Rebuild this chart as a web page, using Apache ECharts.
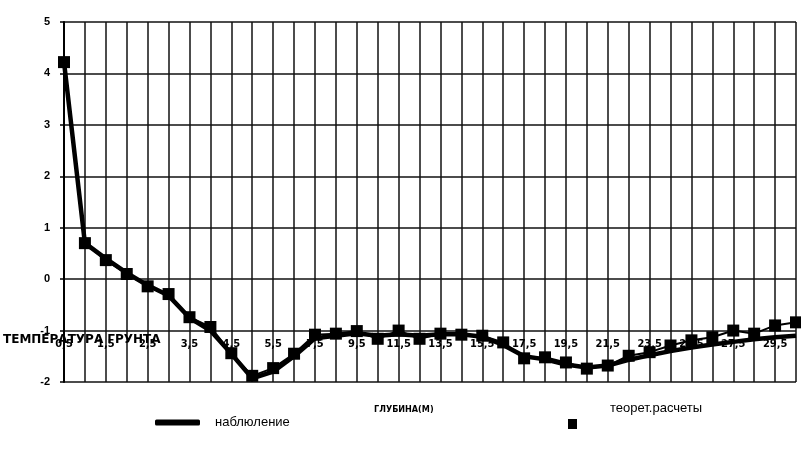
<!DOCTYPE html>
<html>
<head>
<meta charset="utf-8">
<script src="https://cdn.jsdelivr.net/npm/echarts@6/dist/echarts.min.js"></script>
<style>html,body{margin:0;padding:0;background:#fff;}#c{width:801px;height:457px;}</style>
</head>
<body>
<div id="c"></div>
<script>
var categories = ['0,5','1','1,5','2','2,5','3','3,5','4','4,5','5','5,5','6,5','7,5','8,5','9,5','10,5','11,5','12,5','13,5','14,5','15,5','16,5','17,5','18,5','19,5','20,5','21,5','22,5','23,5','24,5','25,5','26,5','27,5','28,5','29,5','30,5'];
var observed = [4.22, 0.70, 0.40, 0.12, -0.12, -0.32, -0.75, -1.00, -1.45, -1.93, -1.80, -1.50, -1.15, -1.10, -1.05, -1.10, -1.07, -1.10, -1.07, -1.07, -1.12, -1.28, -1.50, -1.56, -1.66, -1.72, -1.68, -1.57, -1.48, -1.40, -1.33, -1.27, -1.22, -1.17, -1.13, -1.10];
var theoretical = [4.22, 0.70, 0.37, 0.10, -0.14, -0.29, -0.74, -0.93, -1.44, -1.88, -1.73, -1.45, -1.08, -1.06, -1.01, -1.16, -1.00, -1.16, -1.06, -1.08, -1.10, -1.23, -1.54, -1.52, -1.62, -1.74, -1.68, -1.49, -1.42, -1.29, -1.19, -1.13, -1.00, -1.06, -0.90, -0.84];
var yTicks = {min: -2, max: 5, interval: 1};

var narrow = '"Liberation Sans Narrow", "DejaVu Sans Condensed", "Liberation Sans", sans-serif';
var sans = '"Liberation Sans", Arial, sans-serif';
var chart = echarts.init(document.getElementById('c'), null, {renderer: 'canvas'});
chart.setOption({
  animation: false,
  backgroundColor: '#fff',
  title: [
    {text: 'ТЕМПЕРАТУРА ГРУНТА', left: 3, top: 334, padding: 0,
     textStyle: {fontSize: 12, fontWeight: 'bold', color: '#000', fontFamily: '"DejaVu Sans", sans-serif'}},
    {text: 'ГЛУБИНА(М)', left: 374, top: 405, padding: 0,
     textStyle: {fontSize: 9, fontWeight: 'bold', color: '#000', fontFamily: narrow}}
  ],
  legend: [
    {data: ['наблюление'], left: 155, top: 416, padding: 0, icon: 'roundRect',
     itemWidth: 45, itemHeight: 6, itemGap: 0,
     textStyle: {fontSize: 13, color: '#000', fontFamily: sans, padding: [0,0,0,10]}},
    {data: ['теорет.расчеты'], left: 568, top: 400, padding: 0, icon: 'rect',
     itemWidth: 9, itemHeight: 10,
     formatter: function (name) { return name + '\n \n '; },
     textStyle: {fontSize: 13, lineHeight: 16, color: '#000', fontFamily: sans, padding: [0,0,0,28]}}
  ],
  grid: {left: 64, right: 5, top: 22, bottom: 75, containLabel: false},
  xAxis: {
    type: 'category',
    data: categories,
    boundaryGap: false,
    offset: -51.5,
    axisLine: {show: false},
    axisTick: {show: false},
    axisLabel: {interval: 1, color: '#000', fontSize: 11, fontWeight: 'bold', fontFamily: narrow, margin: 8},
    splitLine: {show: true, interval: 0, lineStyle: {color: '#111', width: 1.5}}
  },
  yAxis: {
    type: 'value',
    min: yTicks.min, max: yTicks.max, interval: yTicks.interval,
    axisLine: {show: true, lineStyle: {color: '#000', width: 2}},
    axisTick: {show: true, length: 4, lineStyle: {color: '#000', width: 1.5}},
    axisLabel: {color: '#000', fontSize: 11, fontWeight: 'bold', fontFamily: sans, margin: 14, padding: [0,0,8,0]},
    splitLine: {show: true, lineStyle: {color: '#111', width: 1.5}}
  },
  series: [
    {name: 'наблюление', type: 'line', data: observed, symbol: 'none',
     lineStyle: {color: '#000', width: 4.5}, itemStyle: {color: '#000'}, z: 3},
    {name: 'теорет.расчеты', type: 'line', data: theoretical, symbol: 'rect', symbolSize: 12,
     lineStyle: {color: '#000', width: 2}, itemStyle: {color: '#000'}, z: 4}
  ]
});
</script>
</body>
</html>
